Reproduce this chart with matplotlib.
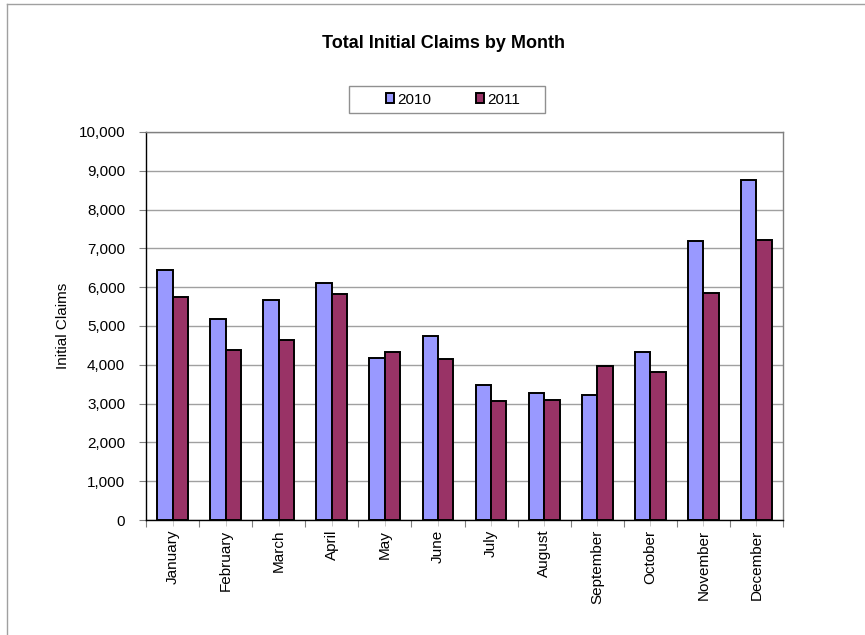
import matplotlib
matplotlib.use("Agg")
import matplotlib.pyplot as plt
import numpy as np
from matplotlib.ticker import FuncFormatter, FixedLocator
from matplotlib.lines import Line2D
from matplotlib.patches import Rectangle

months = ["January", "February", "March", "April", "May", "June", "July",
          "August", "September", "October", "November", "December"]
claims_2010 = [6450, 5180, 5670, 6110, 4180, 4750, 3480, 3280, 3210, 4340, 7180, 8750]
claims_2011 = [5760, 4370, 4640, 5830, 4330, 4160, 3070, 3090, 3970, 3810, 5850, 7210]
series_labels = ["2010", "2011"]

plt.rcParams['font.family'] = ['Liberation Sans', 'DejaVu Sans']

fig = plt.figure(figsize=(8.65, 6.35), dpi=100)
W, H = 865, 635
ax = fig.add_axes([146 / W, 1 - 520 / H, (783 - 146) / W, (520 - 132) / H])

x = np.arange(len(months))
bw = 0.29
ax.bar(x - bw / 2, claims_2010, bw, color="#9999FF", edgecolor="black", linewidth=1.4,
       label=series_labels[0], zorder=3)
ax.bar(x + bw / 2, claims_2011, bw, color="#993366", edgecolor="black", linewidth=1.4,
       label=series_labels[1], zorder=3)

ax.set_xlim(-0.5, len(months) - 0.5)
ax.set_ylim(0, 10000)
ax.set_yticks(np.arange(0, 10001, 1000))
ax.yaxis.set_major_formatter(FuncFormatter(lambda v, p: f"{int(v):,}"))
ax.yaxis.grid(True, color="#a0a0a0", linewidth=1.0, zorder=0)
ax.tick_params(axis='y', length=5, width=0.8, color="#808080", labelsize=11, pad=10)

ax.set_xticks(x)
ax.set_xticklabels(months, rotation=90, fontsize=11)
ax.xaxis.set_minor_locator(FixedLocator(np.arange(-0.5, len(months), 1.0)))
ax.tick_params(axis='x', which='major', length=4, width=0.6, color="#c0c0c0", pad=3)
ax.tick_params(axis='x', which='minor', length=5, width=0.8, color="#808080")

for s in ["top", "right"]:
    ax.spines[s].set_color("#808080")
    ax.spines[s].set_linewidth(1.0)
for s in ["left", "bottom"]:
    ax.spines[s].set_color("black")
    ax.spines[s].set_linewidth(1.0)

ax.set_ylabel("Initial Claims", fontsize=11, labelpad=6)

fig.text(444 / W, 1 - 44 / H, "Total Initial Claims by Month", ha="center", va="center",
         fontsize=13, fontweight="bold")

# legend frame drawn as a rectangle, entries placed inside it
fig.add_artist(Rectangle((349 / W, 1 - 113 / H), (545 - 349) / W, (113 - 86) / H,
                         transform=fig.transFigure, fill=True, facecolor="white",
                         edgecolor="#909090", linewidth=1.0))
leg = fig.legend(loc="center", bbox_to_anchor=(453 / W, 1 - 99.5 / H), ncol=2,
                 fontsize=11, frameon=False,
                 handlelength=0.55, handleheight=0.55, handletextpad=0.2,
                 columnspacing=2.9, borderpad=0.2)

fig.add_artist(Line2D([7 / W, 1.0], [1 - 4 / H, 1 - 4 / H], transform=fig.transFigure,
                      color="#a0a0a0", linewidth=1.0))
fig.add_artist(Line2D([7 / W, 7 / W], [0, 1 - 4 / H], transform=fig.transFigure,
                      color="#a0a0a0", linewidth=1.0))

fig.savefig("out.png", dpi=100)
